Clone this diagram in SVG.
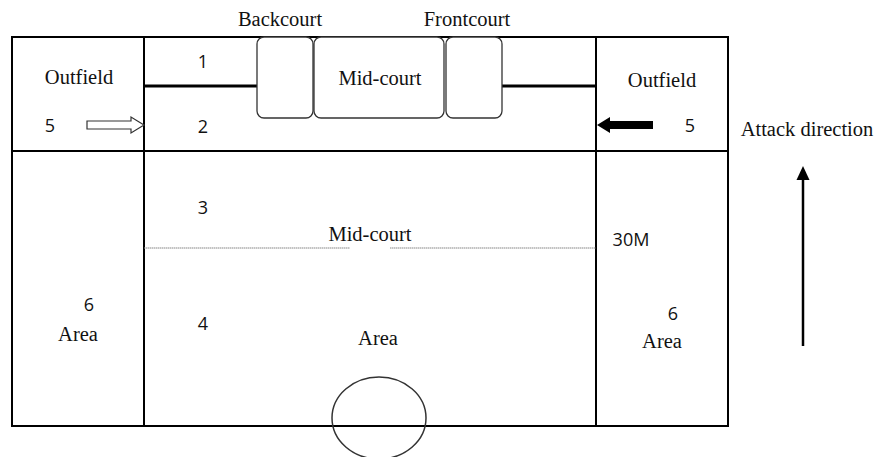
<svg xmlns="http://www.w3.org/2000/svg" width="877" height="457" viewBox="0 0 877 457">
<style>
.serif{font-family:"Liberation Serif","Times New Roman",serif;font-size:20.5px;fill:#111}
.sans{font-family:"Open Sans","DejaVu Sans",sans-serif;font-size:18px;fill:#111}
.ln{stroke:#000;stroke-width:2;fill:none}
.thick{stroke:#000;stroke-width:3;fill:none}
.box{fill:#fff;stroke:#333;stroke-width:1.3}
</style>
<rect width="877" height="457" fill="#fff"/>
<g id="field">
<rect x="12" y="37" width="716" height="389" class="ln"/>
<line x1="144" y1="37" x2="144" y2="426" class="ln"/>
<line x1="596" y1="37" x2="596" y2="426" class="ln"/>
<line x1="12" y1="151" x2="728" y2="151" class="ln"/>
<line x1="144" y1="86" x2="258" y2="86" class="thick"/>
<line x1="502" y1="86" x2="596" y2="86" class="thick"/>
<line x1="144" y1="248" x2="350" y2="248" stroke="#888" stroke-width="1.2" stroke-dasharray="1.5,0.5"/>
<line x1="390" y1="248" x2="596" y2="248" stroke="#888" stroke-width="1.2" stroke-dasharray="1.5,0.5"/>
</g>
<g id="backcourt-box"><rect x="257" y="37" width="56" height="81" rx="7" class="box"/></g>
<g id="midcourt-box"><rect x="314" y="37" width="130" height="81" rx="7" class="box"/><text x="380" y="85" text-anchor="middle" class="serif">Mid-court</text></g>
<g id="frontcourt-box"><rect x="446" y="37" width="56" height="81" rx="7" class="box"/></g>
<g id="goal-circle"><ellipse cx="379" cy="418" rx="47" ry="41" fill="none" stroke="#333" stroke-width="1.5"/></g>
<g id="connectors">
<path d="M87,121 L131,121 L131,117 L144,125 L131,133 L131,129 L87,129 Z" fill="#fff" stroke="#333" stroke-width="1.2"/>
<path d="M653,121 L610,121 L610,117 L597,125 L610,133 L610,129 L653,129 Z" fill="#000"/>
<line x1="803" y1="346" x2="803" y2="178" stroke="#000" stroke-width="2.5"/>
<path d="M796.5,180 L803,166 L809.5,180 Z" fill="#000"/>
</g>
<g id="labels">
<text x="280" y="26" text-anchor="middle" class="serif">Backcourt</text>
<text x="467" y="26" text-anchor="middle" class="serif">Frontcourt</text>
<text x="79" y="84" text-anchor="middle" class="serif">Outfield</text>
<text x="662" y="87" text-anchor="middle" class="serif">Outfield</text>
<text x="807" y="136" text-anchor="middle" class="serif">Attack direction</text>
<text x="370" y="241" text-anchor="middle" class="serif">Mid-court</text>
<text x="78" y="341" text-anchor="middle" class="serif">Area</text>
<text x="378" y="345" text-anchor="middle" class="serif">Area</text>
<text x="662" y="348" text-anchor="middle" class="serif">Area</text>
<text x="50" y="132" text-anchor="middle" class="sans">5</text>
<text x="690" y="132" text-anchor="middle" class="sans">5</text>
<text x="203" y="68" text-anchor="middle" class="sans">1</text>
<text x="203" y="133" text-anchor="middle" class="sans">2</text>
<text x="203" y="214" text-anchor="middle" class="sans">3</text>
<text x="203" y="330" text-anchor="middle" class="sans">4</text>
<text x="89" y="311" text-anchor="middle" class="sans">6</text>
<text x="673" y="320" text-anchor="middle" class="sans">6</text>
<text x="631" y="246" text-anchor="middle" class="sans">30M</text>
</g>
</svg>
